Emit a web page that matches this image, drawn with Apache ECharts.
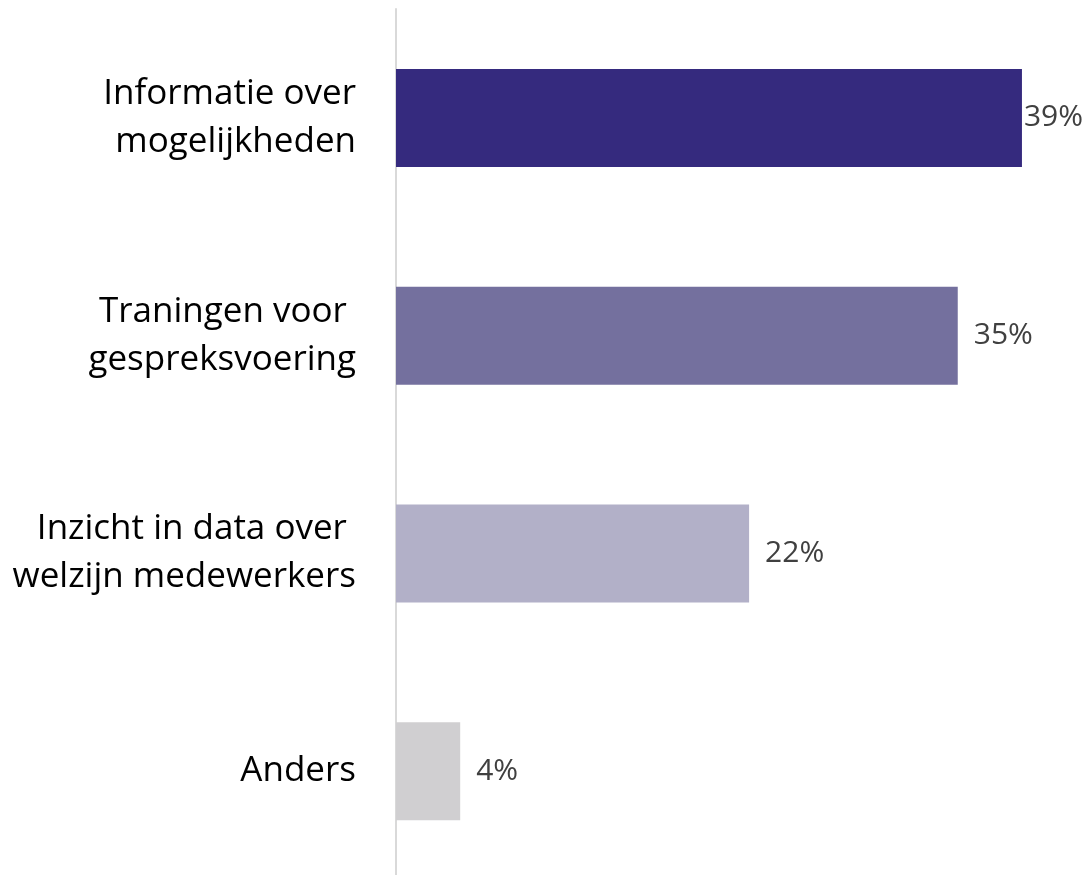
<!DOCTYPE html>
<html>
<head>
<meta charset="utf-8">
<script src="https://cdn.jsdelivr.net/npm/echarts@6/dist/echarts.min.js"></script>
<style>
  html, body { margin: 0; padding: 0; background: #fff; }
  #chart { width: 1089px; height: 875px; }
</style>
</head>
<body>
<div id="chart"></div>
<script>
var categories = ['Informatie over\nmogelijkheden', 'Traningen voor \ngespreksvoering', 'Inzicht in data over \nwelzijn medewerkers', 'Anders'];
var values = [39, 35, 22, 4];
var barColors = ['#352a7e', '#74709e', '#b2b0c8', '#d0cfd1'];

(function(){
	var myChart = echarts.init(document.getElementById('chart'));
	var option = {
		animation: false,
		grid: {
			left: 396,
			width: 642,
			top: 9,
			height: 871,
			outerBoundsMode: 'none'
		},
		xAxis: {
			type: 'value',
			min: 0,
			max: 40,
			show: false
		},
		yAxis: {
			type: 'category',
			inverse: true,
			data: categories,
			axisLine: {
				lineStyle: { color: '#d9d9d9', width: 2 }
			},
			axisTick: { show: false },
			axisLabel: {
				margin: 40,
				color: '#000',
				fontFamily: 'Open Sans',
				fontSize: 35,
				lineHeight: 48,
				align: 'right'
			}
		},
		series: [
			{
				type: 'bar',
				barWidth: 98,
				data: values.map(function(v, i){
					return {
						value: v,
						itemStyle: { color: barColors[i] },
						label: { distance: i === 0 ? 2 : 16 }
					};
				}),
				label: {
					show: true,
					position: 'right',
					formatter: '{c}%',
					color: '#404040',
					fontFamily: 'Open Sans',
					fontSize: 30
				}
			}
		]
	};
	myChart.setOption(option);
})();
</script>
</body>
</html>
